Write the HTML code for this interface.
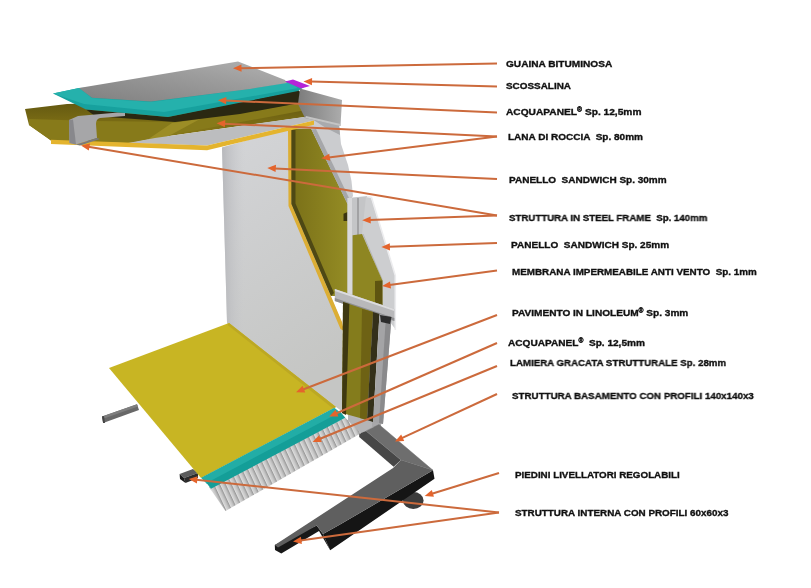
<!DOCTYPE html>
<html><head><meta charset="utf-8">
<style>
html,body{margin:0;padding:0;background:#fff;}
body{width:811px;height:588px;position:relative;overflow:hidden;font-family:"Liberation Sans",sans-serif;}
svg{position:absolute;left:0;top:0;}
.l{position:absolute;font-weight:bold;font-size:9.8px;line-height:10px;color:#111;-webkit-text-stroke:0.35px #111;white-space:pre;transform-origin:0 0;will-change:transform;margin-top:-1.5px;}
.r{font-size:6.5px;position:relative;top:-3px;}
</style></head><body>
<svg width="811" height="588" viewBox="0 0 811 588">
<defs>
<linearGradient id="gTop" x1="0" y1="1" x2="1" y2="0">
<stop offset="0" stop-color="#808080"/><stop offset="0.6" stop-color="#9c9c9c"/><stop offset="1" stop-color="#b2b2b2"/>
</linearGradient>
<linearGradient id="gWall" x1="0" y1="0" x2="0.3" y2="1">
<stop offset="0" stop-color="#d4d5d8"/><stop offset="1" stop-color="#c5c6c4"/>
</linearGradient>
<linearGradient id="gWallL" gradientUnits="userSpaceOnUse" x1="222" y1="0" x2="245" y2="0">
<stop offset="0" stop-color="#b4b5b9" stop-opacity="0.9"/><stop offset="1" stop-color="#c8c9cc" stop-opacity="0"/>
</linearGradient>
<linearGradient id="gOl1" x1="0" y1="0" x2="1" y2="0">
<stop offset="0" stop-color="#7a7018"/><stop offset="1" stop-color="#948c24"/>
</linearGradient>
<linearGradient id="gFlap" x1="0" y1="0" x2="1" y2="0">
<stop offset="0" stop-color="#7c7c7c"/><stop offset="1" stop-color="#acacac"/>
</linearGradient>
<linearGradient id="gOl" x1="0" y1="0" x2="0" y2="1">
<stop offset="0" stop-color="#5e5410"/><stop offset="0.5" stop-color="#786a14"/><stop offset="1" stop-color="#8e7e1c"/>
</linearGradient>
<pattern id="corr" patternUnits="userSpaceOnUse" width="5.3" height="10" patternTransform="rotate(-25)">
<rect width="5.3" height="10" fill="#cbcbcb"/><rect x="0" width="1.2" height="10" fill="#dcdcdc"/><rect x="3.2" width="1.1" height="10" fill="#b0b0b0"/><rect x="4.3" width="1" height="10" fill="#9c9c9c"/>
</pattern>
</defs>

<!-- ===== BASE FRAME ===== -->
<polygon points="102,416.5 137,404.3 139,410 103.1,423" fill="#686868"/>
<polygon points="102,416.5 137,404.3 138,406.5 102.5,419" fill="#7e7e7e"/>
<polygon points="102,416.5 104,416 105,423 103.1,423" fill="#444"/>
<polygon points="179.6,474 193,469 198,473 184,478" fill="#5c5c5c"/>
<polygon points="184,478 198,473 198,478 185.5,483" fill="#2c2c2c"/>
<polygon points="179.6,474 184,478 185.5,483 180,479" fill="#1a1a1a"/>
<!-- post bottom -->
<polygon points="371,405 383,405 381,426 370,428" fill="#a8a8aa"/>
<polygon points="348,410 372,418 372,428 360,434 348,425" fill="#b4b4b6"/>
<!-- foot -->
<ellipse cx="413.3" cy="500.5" rx="10.3" ry="8.4" fill="#3c3c3c"/>
<!-- short arm inner face -->
<polygon points="359.2,433.7 366,431 401,460 393.6,466.8 359.2,437" fill="#474747"/>
<!-- top faces -->
<polygon points="366,431 379,424.5 433,470.3 401,460" fill="#6e6e6e" stroke="#6e6e6e" stroke-width="0.5"/>
<!-- black faces -->
<polygon points="433,470.3 434.5,478.8 330.2,550.2 323,534 340,524.5" fill="#151515"/>
<polygon points="316.7,525.5 323,534 330.2,550.2 319,531 281.3,553.6 275,550 274.8,545" fill="#181818"/>
<!-- long arm + thin bar top face -->
<polygon points="401,460 433,470.3 340,524.5 323,534 316.7,525.5 278,547.5 274.8,545 393.1,468" fill="#5f5f5f"/>

<!-- ===== WALL ===== -->
<polygon points="222,147.5 292,127.5 312,123 312,130 292,204 342,323 343,412 229,330 227,322" fill="url(#gWall)"/>
<polygon points="222,147.5 292,127.5 312,123 312,130 292,204 342,323 343,412 229,330 227,322" fill="url(#gWallL)"/>
<polygon points="288,128 293,127 291.5,204 342,322 344,331 340.5,329 288.5,206" fill="#dcae34"/>
<!-- olive upper panel -->
<polygon points="291.5,128.7 311.5,128.7 348,203.4 348,296 331,296 291.5,204" fill="url(#gOl1)"/>
<polygon points="291.5,129 295.5,130 295.5,203.5 334,293 331,296 291.5,204" fill="#4e4814"/>
<polygon points="343.5,213.7 347.6,212 347.6,221 343.5,221" fill="#3a3410"/>
<!-- light gray band right of olive -->
<polygon points="309,127 312,119 330,118 339,124 341,144 348,165 351.5,181 353,196 347.5,204 311.5,129.4" fill="#cbcccf"/>
<polygon points="312,119 330,118 339,124 340,135 326,128" fill="#a9aaad"/>
<polygon points="311.5,129.4 316,129 349.5,199 347.5,204" fill="#a6a7aa"/>
<!-- steel vertical member -->
<polygon points="347.5,198 368,196 368,300 347.5,296" fill="#c4c5c7"/>
<polygon points="347.5,198 352,198 352,298 347.5,297" fill="#d8d8da"/>
<polygon points="357,198 359,198 359,298 357,297" fill="#a2a2a4"/>
<!-- right gray band -->
<polygon points="366,196 371,197 396,278 396,330 382.4,312 382.4,280.5 362,234" fill="#cdced0"/>
<polyline points="367,196.5 371.5,197.5 395.3,275.5 395.3,330" fill="none" stroke="#ececee" stroke-width="1.6"/>
<polyline points="363,234 382,279 382,308" fill="none" stroke="#b4b5b7" stroke-width="1"/>
<!-- olive lower panel 2 -->
<polygon points="352.6,235.2 362,234 382.4,280.5 382.4,307 352.6,309" fill="#8e8622"/>
<polygon points="375,281 382.4,280.5 382.4,307 375,307" fill="#5e5410"/>
<!-- horizontal steel -->
<polygon points="334.8,289 394.3,309 394.3,321 334.8,301" fill="#b8b8ba"/>
<polygon points="334.8,289 394.3,309 394.3,311 334.8,291" fill="#dcdcde"/>
<polygon points="334.8,298 394.3,318 394.3,321 334.8,301" fill="#8e8e90"/>
<!-- lower column -->
<polygon points="343,302 373,312 367,420 342,413" fill="#847c1c"/>
<polygon points="343,302 349.4,304 346,415 342,413" fill="#3e3810"/>
<polygon points="362,309 373,312 367,420 360,418" fill="#6e6214"/>
<polygon points="373,312 379.5,314 373,422 367,420" fill="#34301a"/>
<polygon points="379.5,314 391.5,317 383,424 373,422" fill="#a4a4a6"/>
<polygon points="386,316 391.5,317 383,424 379,423" fill="#8a8a8c"/>
<polygon points="380,315 391.5,317 390,324 381,322" fill="#2c2c2c"/>

<!-- ===== FLOOR ===== -->
<polygon points="109,368 229,323 336,407 201,478" fill="#c8b523"/>
<polygon points="229,323 336,407 333,408.5 227.5,325" fill="#bca823"/>
<!-- corrugated sheet -->
<polygon points="209,487 345.3,417.8 360.9,433.3 225.5,511" fill="url(#corr)"/>
<!-- teal strip -->
<polygon points="201,477.7 334.3,407.8 341,413 207,484" fill="#22ada6"/>
<polygon points="206.5,483 340.5,412 345.3,417.8 211,488.8" fill="#149e98"/>

<!-- ===== ROOF ===== -->
<!-- olive slab -->
<polygon points="25,109 67,104 308,98 312,116 155,138 130,143 51,140.5 29,125" fill="url(#gOl)"/>
<polygon points="29,119 95,121 175,122 240,113 300,103 306,110 155,138 130,143 51,140.5 29,125" fill="#877a1a"/>
<polygon points="147,140 172,123 200,119 165,138" fill="#9c8d26"/>
<!-- dark band under teal -->
<polygon points="86,109.5 168,117 298,90 308,98 300,103 240,114 175,122 95,116" fill="#2a2812"/>
<!-- light gray underside -->
<polygon points="128,143 155,138 311,116 314,120.5 207,145.5" fill="#bcbdbf"/>
<!-- gold strip -->
<polygon points="51,139.8 207,145.5 314,120.5 314,124.8 207,150.3 51,144" fill="#e4b42e"/>
<!-- steel C profile left -->
<path d="M69,120 L78,116 L118,112.5 L125,113 L125,116 L100,118 Q96,119 96,124 L97,138 L76,144.4 L69.5,143 Z" fill="#a6a6a8"/>
<polygon points="69,120 73,119.5 76,144.4 69.5,143" fill="#88888c"/>
<polygon points="76,144.4 97,138 100,139 80,145.5" fill="#7a7a7c"/>
<!-- teal sheet -->
<polygon points="53,93.5 79,88 287,81 304,87 298,91 168,117 86,109.5" fill="#17a19e"/>
<polygon points="53,93.5 79,88 92,98 151,102 250,89 290,82 298,88 164,112 84,104" fill="#25b1ac"/>
<!-- gray top sheet -->
<polygon points="79,88 238,61.5 285,80 287,83 250,89 151,101.6 92,97.7" fill="url(#gTop)"/>
<!-- magenta -->
<polygon points="285,81.4 293,79.5 310,86 301,88.5" fill="#b424d8"/>
<!-- flap -->
<polygon points="300,88.5 342,100 340.5,126 305,118 298,104" fill="url(#gFlap)"/>
<polygon points="305,118 340.5,126 340.5,124 306,116" fill="#c4c4c4"/>

<g stroke="#cc6a3c" stroke-width="2" fill="none">
<line x1="497" y1="63.5" x2="240.5" y2="68.2"/>
<line x1="497" y1="86.5" x2="311.0" y2="81.6"/>
<line x1="497" y1="112.5" x2="225.3" y2="100.6"/>
<line x1="497" y1="136.5" x2="224.1" y2="123.7"/>
<line x1="497" y1="136.5" x2="328.7" y2="157.4"/>
<line x1="497" y1="179" x2="274.8" y2="168.4"/>
<line x1="497" y1="215.5" x2="88.4" y2="146.7"/>
<line x1="497" y1="215.5" x2="369.7" y2="220.0"/>
<line x1="497" y1="243" x2="388.9" y2="246.8"/>
<line x1="497" y1="270.5" x2="389.5" y2="285.1"/>
<line x1="497" y1="315" x2="303.0" y2="389.5"/>
<line x1="497" y1="343" x2="336.1" y2="413.5"/>
<line x1="497" y1="366" x2="319.5" y2="439.0"/>
<line x1="497" y1="394" x2="401.8" y2="438.2"/>
<line x1="499" y1="473" x2="431.9" y2="493.7"/>
<line x1="499" y1="512.5" x2="196.3" y2="479.8"/>
<line x1="499" y1="512.5" x2="300.4" y2="540.5"/>
</g>
<g fill="#e4642c">
<polygon points="233.0,68.3 241.6,71.7 241.4,64.5"/>
<polygon points="303.5,81.4 311.9,85.2 312.1,78.0"/>
<polygon points="217.8,100.3 226.1,104.3 226.4,97.1"/>
<polygon points="216.6,123.3 224.9,127.3 225.3,120.1"/>
<polygon points="321.3,158.3 330.2,160.8 329.3,153.7"/>
<polygon points="267.3,168.0 275.6,172.0 276.0,164.8"/>
<polygon points="81.0,145.5 88.8,150.5 90.0,143.4"/>
<polygon points="362.2,220.3 370.8,223.6 370.6,216.4"/>
<polygon points="381.4,247.1 390.0,250.4 389.8,243.2"/>
<polygon points="382.1,286.1 391.0,288.5 390.0,281.4"/>
<polygon points="296.0,392.2 305.2,392.5 302.6,385.8"/>
<polygon points="329.2,416.5 338.4,416.4 335.5,409.8"/>
<polygon points="312.6,441.9 321.8,442.0 319.1,435.3"/>
<polygon points="395.0,441.4 404.2,441.1 401.2,434.6"/>
<polygon points="424.7,495.9 433.9,496.8 431.8,490.0"/>
<polygon points="188.8,479.0 196.9,483.5 197.6,476.3"/>
<polygon points="293.0,541.5 301.9,543.9 300.9,536.8"/>
</g>
</svg>
<div class="l" style="left:506.0px;top:60.5px;transform:scaleX(1.031)">GUAINA BITUMINOSA</div>
<div class="l" style="left:506.0px;top:82.4px;transform:scaleX(1.012)">SCOSSALINA</div>
<div class="l" style="left:506.1px;top:108.4px;transform:scaleX(1.039)">ACQUAPANEL<span class="r">®</span> Sp. 12,5mm</div>
<div class="l" style="left:507.9px;top:133.3px;transform:scaleX(1.022)">LANA DI ROCCIA  Sp. 80mm</div>
<div class="l" style="left:509.0px;top:176.8px;transform:scaleX(1.021)">PANELLO  SANDWICH Sp. 30mm</div>
<div class="l" style="left:509.3px;top:214.0px;transform:scaleX(0.987)">STRUTTURA IN STEEL FRAME  Sp. 140mm</div>
<div class="l" style="left:511.3px;top:241.0px;transform:scaleX(1.024)">PANELLO  SANDWICH Sp. 25mm</div>
<div class="l" style="left:511.6px;top:268.3px;transform:scaleX(1.005)">MEMBRANA IMPERMEABILE ANTI VENTO  Sp. 1mm</div>
<div class="l" style="left:511.6px;top:309.3px;transform:scaleX(1.029)">PAVIMENTO IN LINOLEUM<span class="r">®</span> Sp. 3mm</div>
<div class="l" style="left:508.3px;top:339.3px;transform:scaleX(1.029)">ACQUAPANEL<span class="r">®</span>  Sp. 12,5mm</div>
<div class="l" style="left:510.0px;top:359.9px;transform:scaleX(0.990)">LAMIERA GRACATA STRUTTURALE Sp. 28mm</div>
<div class="l" style="left:511.6px;top:392.5px;transform:scaleX(0.996)">STRUTTURA BASAMENTO CON PROFILI 140x140x3</div>
<div class="l" style="left:515.0px;top:471.3px;transform:scaleX(1.001)">PIEDINI LIVELLATORI REGOLABILI</div>
<div class="l" style="left:515.0px;top:509.3px;transform:scaleX(1.006)">STRUTTURA INTERNA CON PROFILI 60x60x3</div>

</body></html>
